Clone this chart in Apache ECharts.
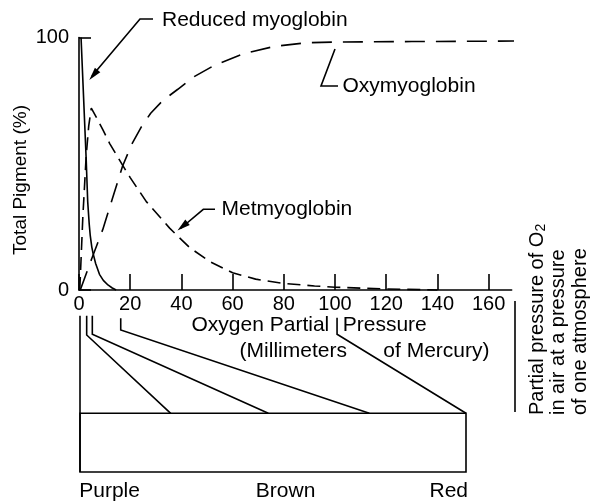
<!DOCTYPE html>
<html>
<head>
<meta charset="utf-8">
<script src="https://cdn.jsdelivr.net/npm/echarts@6/dist/echarts.min.js"></script>
<style>
  html, body { margin: 0; padding: 0; background: #fff; }
  #chart { width: 591px; height: 502px; }
</style>
</head>
<body>
<div id="chart"></div>
<script>
// Oxygen partial pressure (mm Hg) vs. share of total pigment (%)
const reducedMyoglobin = [
  [0.8, 100], [1.8, 76], [2.8, 52], [3.4, 35], [4.0, 26], [4.4, 21.5], [5.0, 17],
  [5.5, 14.5], [6.5, 10.5], [8.0, 6.2], [9.5, 3.8], [11.3, 2.0], [13.0, 0.8], [14.5, 0]
];
const metmyoglobin = [
  [0.3, 0], [1.5, 29], [2.8, 53], [3.8, 65], [4.8, 72], [7.0, 68], [9.3, 63.5],
  [12, 58], [15.5, 52], [20, 44.5], [26.3, 35], [35.4, 24.5], [43.2, 16.8],
  [51, 11.3], [60, 6.8], [69, 4.3], [80, 2.6], [92, 1.6], [100, 1.1], [120, 0.4], [140, 0]
];
const oxymyoglobin = [
  [0.5, 0], [5, 12.5], [9.3, 24], [13, 36], [17, 49], [20.5, 57.5], [24.3, 64.5],
  [28, 70], [32.7, 75], [38.6, 79.5], [45, 84.5], [52.9, 89], [64.6, 93.7],
  [76.4, 96.5], [88.7, 97.9], [100, 98.2], [130, 98.4], [172, 98.6]
];
const pressureTicks = [0, 20, 40, 60, 80, 100, 120, 140, 160];
const pigmentTicks = [0, 100];
const colourStops = [0, 3, 5.2, 16.3, 100.8];
const colourNames = ['Purple', 'Brown', 'Red'];

const FONT = '"Liberation Sans", Arial, Helvetica, sans-serif';
const chart = echarts.init(document.getElementById('chart'), null, { renderer: 'canvas', width: 591, height: 502 });

const lineW = 1.6;
chart.setOption({
  backgroundColor: '#fff',
  animation: false,
  grid: { left: 79, top: 37.5, width: 169 * 2.56, height: 252.5, containLabel: false },
  xAxis: {
    type: 'value', min: 0, max: 169,
    axisLine: { lineStyle: { color: '#000', width: lineW } },
    axisTick: { inside: true, length: 16, customValues: pressureTicks, lineStyle: { color: '#000', width: lineW } },
    axisLabel: { customValues: pressureTicks, margin: 4, color: '#000', fontSize: 20, fontFamily: FONT },
    splitLine: { show: false }
  },
  yAxis: {
    type: 'value', min: 0, max: 100,
    axisLine: { show: true, lineStyle: { color: '#000', width: lineW } },
    axisTick: { inside: true, length: 12, customValues: pigmentTicks, lineStyle: { color: '#000', width: lineW } },
    axisLabel: { customValues: pigmentTicks, margin: 10, color: '#000', fontSize: 20, fontFamily: FONT },
    splitLine: { show: false }
  },
  series: [
    { name: 'Reduced myoglobin', type: 'line', data: reducedMyoglobin, showSymbol: false, clip: false,
      lineStyle: { color: '#000', width: lineW } },
    { name: 'Metmyoglobin', type: 'line', data: metmyoglobin, showSymbol: false, clip: false,
      lineStyle: { color: '#000', width: lineW, type: [13, 7] } },
    { name: 'Oxymyoglobin', type: 'line', data: oxymyoglobin, showSymbol: false, clip: false,
      lineStyle: { color: '#000', width: lineW, type: [20, 11] } }
  ]
});

const px = v => chart.convertToPixel({ gridIndex: 0 }, [v, 0])[0];
const ink = { stroke: '#000', lineWidth: lineW, fill: null };
const txt = (text, x, y, extra) => ({
  type: 'text', x, y,
  style: Object.assign({ text, fill: '#000', fontSize: 21, fontFamily: FONT, align: 'left', verticalAlign: 'middle' }, extra || {})
});
const arrowHead = (fromX, fromY, tipX, tipY) => {
  const a = Math.atan2(tipY - fromY, tipX - fromX), L = 13, W = 3.5;
  const bx = tipX - L * Math.cos(a), by = tipY - L * Math.sin(a);
  return { type: 'polygon', shape: { points: [[tipX, tipY],
    [bx + W * Math.sin(a), by - W * Math.cos(a)], [bx - W * Math.sin(a), by + W * Math.cos(a)]] },
    style: { fill: '#000' } };
};
const upright = el => Object.assign(el, { rotation: Math.PI / 2 });

const g = [];
// curve labels with leader lines
g.push(txt('Reduced myoglobin', 162, 20.5));
g.push({ type: 'polyline', shape: { points: [[153, 19], [140, 19], [92, 76]] }, style: ink });
g.push(arrowHead(140, 19, 89.3, 80));
g.push(txt('Oxymyoglobin', 342.5, 86.5));
g.push({ type: 'polyline', shape: { points: [[335, 49], [321, 86], [338, 86]] }, style: ink });
g.push(txt('Metmyoglobin', 221.5, 209));
g.push({ type: 'polyline', shape: { points: [[215, 209.3], [203.3, 209.3], [180.5, 228.5]] }, style: ink });
g.push(arrowHead(203.3, 209.3, 177.5, 230.5));

// axis titles
g.push(upright(txt('Total Pigment (%)', 21, 180, { align: 'center', fontSize: 19 })));
g.push(txt('Oxygen Partial', 191.5, 325.5));
g.push(txt('Pressure', 342.7, 325.5));
g.push(txt('(Millimeters', 239.6, 351));
g.push(txt('of Mercury)', 383.3, 351));

// connectors from the pressure axis down to the colour bar
const barTop = 413.3, barBottom = 472, barLeft = px(colourStops[0]) + 1, barRight = 466;
const bendY = [0, 335, 334.3, 330, 334.3];
const dropTop = [315.7, 315.7, 315.7, 318.3, 317.7];
const barHits = [barLeft, 170.7, 268.3, 369.3, barRight];
colourStops.forEach((v, i) => {
  const x = px(v);
  if (i === 0) {
    g.push({ type: 'polyline', shape: { points: [[barLeft, dropTop[0]], [barLeft, barBottom]] }, style: ink });
  } else {
    g.push({ type: 'polyline', shape: { points: [[x, dropTop[i]], [x, bendY[i]], [barHits[i], barTop]] }, style: ink });
  }
});
g.push({ type: 'rect', shape: { x: barLeft, y: barTop, width: barRight - barLeft, height: barBottom - barTop }, style: ink });
g.push(txt(colourNames[0], 79.2, 491.5));
g.push(txt(colourNames[1], 255.8, 491.5));
g.push(txt(colourNames[2], 468, 491.5, { align: 'right' }));

// note on atmospheric oxygen pressure
g.push({ type: 'line', shape: { x1: 515, y1: 301, x2: 515, y2: 412 }, style: ink });
const rot = (text, x, extra) => upright(txt(text, x, 415, Object.assign({ fontSize: 20 }, extra || {})));
g.push(rot('Partial pressure of O{s|2}', 537, { rich: { s: { fontSize: 14, fontFamily: FONT, fill: '#000', verticalAlign: 'bottom', padding: [9, 0, 0, 0] } } }));
g.push(rot('in air at a pressure', 558.5));
g.push(rot('of one atmosphere', 580.5));

chart.setOption({ graphic: { elements: g } });
</script>
</body>
</html>
